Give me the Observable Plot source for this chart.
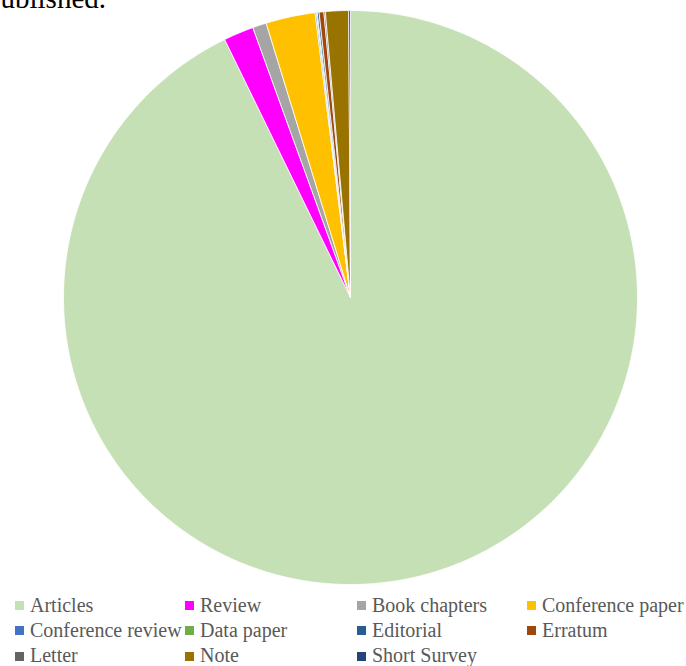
<!DOCTYPE html>
<html>
<head>
<meta charset="utf-8">
<script src="https://cdn.jsdelivr.net/npm/d3@7"></script>
<script src="https://cdn.jsdelivr.net/npm/@observablehq/plot@0.6"></script>
<style>
  html, body { margin: 0; padding: 0; background: #fff; }
  #wrap { position: relative; width: 686px; height: 666px; overflow: hidden; font-family: "Times New Roman", "Liberation Serif", "DejaVu Serif", serif; }
  #caption { position: absolute; left: -14px; top: -16px; font-family: "Times New Roman", "Liberation Serif", serif; font-size: 29px; line-height: 29px; color: #000; white-space: nowrap; }
  #chart { position: absolute; left: 0; top: 0; }
  #legend { position: absolute; left: 15px; top: 592px; display: grid; grid-template-columns: 170px 172px 170px auto; row-gap: 0; }
  #legend .item { display: flex; align-items: center; height: 25.3px; font-family: "Times New Roman", "Liberation Serif", "DejaVu Serif", serif; font-size: 20px; line-height: 20px; color: #595959; white-space: nowrap; }
  #legend .sw { width: 9px; height: 9px; margin-right: 6px; flex: none; position: relative; top: 1px; }
</style>
</head>
<body>
<div id="wrap">
  <div id="chart"></div>
  <div id="caption">published.</div>
  <div id="legend"></div>
</div>
<script>
const categories = ["Articles", "Review", "Book chapters", "Conference paper", "Conference review", "Data paper", "Editorial", "Erratum", "Letter", "Note", "Short Survey"];
const shares = [92.86, 1.70, 0.78, 2.78, 0.07, 0.05, 0.10, 0.27, 0.08, 1.30, 0.10];
const colors = ["#c5e0b4", "#ff00ff", "#a5a5a5", "#ffc000", "#4472c4", "#70ad47", "#255e91", "#9e480e", "#636363", "#997300", "#264478"];

const rows = categories.map((c, i) => ({cat: c, value: shares[i]}));
const arcs = d3.pie().sort(null).value(d => d.value)(rows);

// Build slice outlines in unit-circle data coordinates
const pts = [];
for (const a of arcs) {
  const cat = a.data.cat;
  pts.push({cat, x: 0, y: 0});
  const span = a.endAngle - a.startAngle;
  const n = Math.max(2, Math.ceil(span / (Math.PI / 360)));
  for (let k = 0; k <= n; k++) {
    const t = a.startAngle + span * k / n;
    pts.push({cat, x: Math.sin(t), y: Math.cos(t)});
  }
  pts.push({cat, x: 0, y: 0});
}

const chart = Plot.plot({
  width: 686,
  height: 590,
  marginLeft: 63,
  marginRight: 49,
  marginTop: 10,
  marginBottom: 6,
  x: {domain: [-1, 1], axis: null},
  y: {domain: [-1, 1], axis: null},
  color: {domain: categories, range: colors},
  marks: [
    Plot.line(pts, {x: "x", y: "y", z: "cat", fill: "cat", stroke: "white", strokeWidth: 0.8, strokeLinejoin: "round", curve: "linear"})
  ]
});
document.getElementById("chart").appendChild(chart);

const legend = document.getElementById("legend");
categories.forEach((c, i) => {
  const item = document.createElement("div");
  item.className = "item";
  const sw = document.createElement("span");
  sw.className = "sw";
  sw.style.background = colors[i];
  const tx = document.createElement("span");
  tx.textContent = c;
  item.appendChild(sw);
  item.appendChild(tx);
  legend.appendChild(item);
});
</script>
</body>
</html>
